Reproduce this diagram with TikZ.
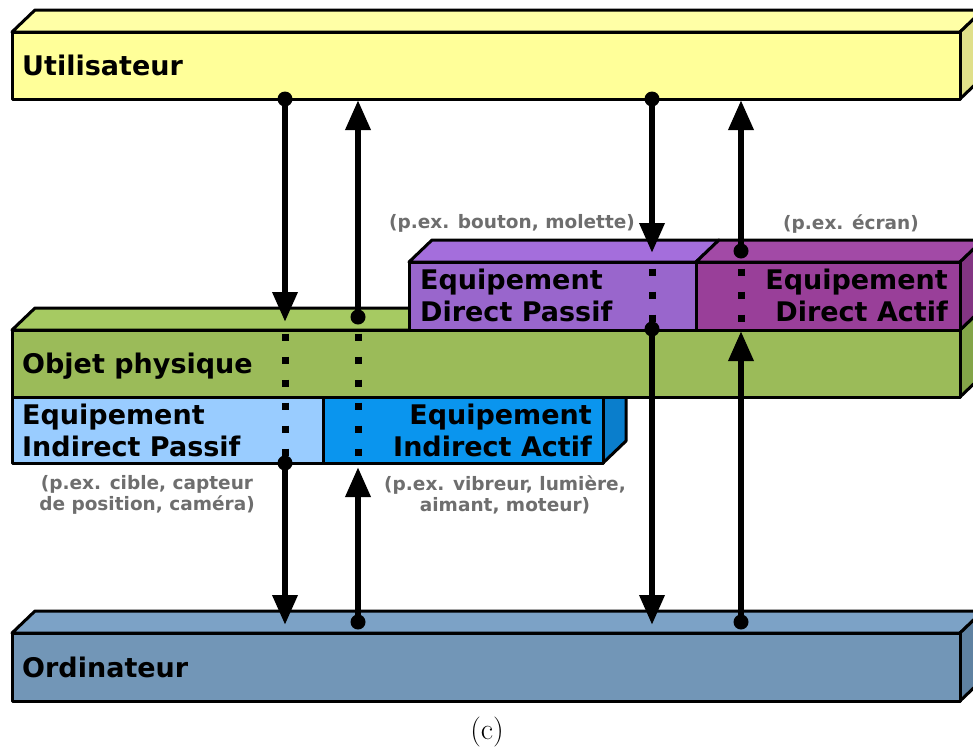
\documentclass[tikz,border=0pt]{standalone}
\usepackage{fontspec}
\newfontfamily\dv{DejaVu Sans}
\usetikzlibrary{arrows.meta}
\definecolor{yelF}{HTML}{FFFF99}
\definecolor{yelT}{HTML}{FFFFA6}
\definecolor{yelS}{HTML}{E0E08A}
\definecolor{grnF}{HTML}{9BBB59}
\definecolor{grnT}{HTML}{A6CA62}
\definecolor{grnS}{HTML}{83A548}
\definecolor{purF}{HTML}{9966CC}
\definecolor{purT}{HTML}{A46EDC}
\definecolor{magF}{HTML}{993F99}
\definecolor{magT}{HTML}{A24AA6}
\definecolor{magS}{HTML}{833583}
\definecolor{lbF}{HTML}{99CCFF}
\definecolor{bF}{HTML}{0A95EE}
\definecolor{bS}{HTML}{0A7ECC}
\definecolor{ordF}{HTML}{7296B7}
\definecolor{ordT}{HTML}{7CA2C6}
\definecolor{ordS}{HTML}{5F82A2}
\definecolor{grayT}{HTML}{6E6E6E}
\tikzset{
 face/.style={draw=black, line width=3pt, line join=round},
 front/.style={face, rectangle, inner sep=0pt, outer sep=0pt},
 lbl/.style={font=\dv\bfseries\fontsize{27}{32}\selectfont, inner sep=0pt},
 note/.style={font=\dv\bfseries\fontsize{18.5}{21}\selectfont, text=grayT, inner sep=0pt, align=center, anchor=north},
 link/.style={line width=6.5pt},
 arrowlink/.style={link, -{Triangle[length=30pt,width=24pt]}},
 dotline/.style={line width=7pt, dash pattern=on 7pt off 16pt},
 endpoint/.style={circle, fill=black, inner sep=0pt, minimum size=15pt},
}
\begin{document}
\begin{tikzpicture}[x=1pt,y=-1pt]
\useasboundingbox (0,0) rectangle (973,747);
\clip (0,0) rectangle (973,747);
% Utilisateur
\filldraw[face, fill=yelT] (12,32) -- (35,10) -- (983,10) -- (960,32) -- cycle;
\filldraw[face, fill=yelS] (960,32) -- (983,10) -- (983,77) -- (960,99) -- cycle;
\node[front, fill=yelF, minimum width=948pt, minimum height=67pt, anchor=north west] (util) at (12,32) {};
\node[lbl, anchor=base west] (utiltxt) at (22,75) {Utilisateur};
% Indirect
\filldraw[face, fill=bS] (603,397) -- (626,375) -- (626,441) -- (603,463) -- cycle;
\node[front, fill=lbF, minimum width=311pt, minimum height=66pt, anchor=north west] (ip) at (12,397) {};
\node[front, fill=bF, minimum width=280pt, minimum height=66pt, anchor=north west] (ia) at (323,397) {};
% Objet physique
\filldraw[face, fill=grnT] (12,330) -- (35,308) -- (983,308) -- (960,330) -- cycle;
\filldraw[face, fill=grnS] (960,330) -- (983,308) -- (983,375) -- (960,397) -- cycle;
\node[front, fill=grnF, minimum width=948pt, minimum height=67pt, anchor=north west] (obj) at (12,330) {};
% Direct
\filldraw[face, fill=purT] (409,262) -- (432,240) -- (719,240) -- (696,262) -- cycle;
\filldraw[face, fill=magT] (696,262) -- (719,240) -- (983,240) -- (960,262) -- cycle;
\filldraw[face, fill=magS] (960,262) -- (983,240) -- (983,308) -- (960,330) -- cycle;
\node[front, fill=purF, minimum width=287pt, minimum height=68pt, anchor=north west] (dp) at (409,262) {};
\node[front, fill=magF, minimum width=264pt, minimum height=68pt, anchor=north west] (da) at (696,262) {};
% Ordinateur
\filldraw[face, fill=ordT] (12,633) -- (35,611) -- (983,611) -- (960,633) -- cycle;
\filldraw[face, fill=ordS] (960,633) -- (983,611) -- (983,679) -- (960,701) -- cycle;
\node[front, fill=ordF, minimum width=948pt, minimum height=68pt, anchor=north west] (ord) at (12,633) {};
% labels
\node[lbl, anchor=base west] (objtxt) at (22,373) {Objet physique};
\node[lbl, anchor=base west] (ordtxt) at (22,677) {Ordinateur};
\node[lbl, align=left, anchor=north west] (dptxt) at (420,268.5) {Equipement\\Direct Passif};
\node[lbl, align=right, anchor=north east] (datxt) at (948,268.5) {Equipement\\Direct Actif};
\node[lbl, align=left, anchor=north west] (iptxt) at (22,403.5) {Equipement\\Indirect Passif};
\node[lbl, align=right, anchor=north east] (iatxt) at (592,403.5) {Equipement\\Indirect Actif};
\node[note] (n1) at (512,214) {(p.ex. bouton, molette)};
\node[note] (n2) at (851,214) {(p.ex. écran)};
\node[note] (n3) at (147,475) {(p.ex. cible, capteur\\de position, caméra)};
\node[note] (n4) at (505,475) {(p.ex. vibreur, lumière,\\aimant, moteur)};
\node[font=\fontsize{30}{34}\selectfont, inner sep=0pt] (cap) at (487,732) {(c)};
% connector 1 (x=285)
\node[endpoint] (a1s) at (285,99) {};
\coordinate (a1e) at (285,322);
\draw[arrowlink] (a1s.center) -- (a1e);
\coordinate (a1d1) at (285,333.5); \coordinate (a1d2) at (285,456.5);
\draw[dotline] (a1d1) -- (a1d2);
\node[endpoint] (a1t) at (285,463) {};
\coordinate (a1f) at (285,625);
\draw[arrowlink] (a1t.center) -- (a1f);
% connector 2 (x=358)
\node[endpoint] (a2s) at (358,622) {};
\coordinate (a2e) at (358,467);
\draw[arrowlink] (a2s.center) -- (a2e);
\coordinate (a2d1) at (358,333.5); \coordinate (a2d2) at (358,456.5);
\draw[dotline] (a2d1) -- (a2d2);
\node[endpoint] (a2t) at (358,317) {};
\coordinate (a2f) at (358,100);
\draw[arrowlink] (a2t.center) -- (a2f);
% connector 3 (x=652)
\node[endpoint] (a3s) at (652,99) {};
\coordinate (a3e) at (652,253);
\draw[arrowlink] (a3s.center) -- (a3e);
\coordinate (a3d1) at (652,268.5); \coordinate (a3d2) at (652,321.5);
\draw[dotline] (a3d1) -- (a3d2);
\node[endpoint] (a3t) at (652,329) {};
\coordinate (a3f) at (652,625);
\draw[arrowlink] (a3t.center) -- (a3f);
% connector 4 (x=741)
\node[endpoint] (a4s) at (741,622) {};
\coordinate (a4e) at (741,331);
\draw[arrowlink] (a4s.center) -- (a4e);
\coordinate (a4d1) at (741,268.5); \coordinate (a4d2) at (741,321.5);
\draw[dotline] (a4d1) -- (a4d2);
\node[endpoint] (a4t) at (741,251) {};
\coordinate (a4f) at (741,100);
\draw[arrowlink] (a4t.center) -- (a4f);
\end{tikzpicture}
\end{document}
